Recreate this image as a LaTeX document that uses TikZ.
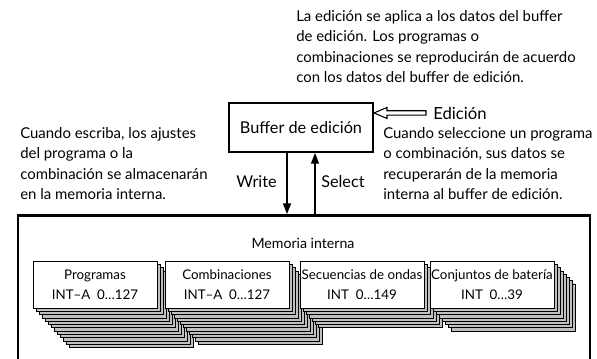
\documentclass[tikz,border=0pt]{standalone}
\usepackage{fontspec}
\setmainfont{Lato}
\usetikzlibrary{arrows.meta,calc}
\begin{document}
\begin{tikzpicture}[x=.75pt,y=-.75pt,txt/.style={inner sep=0pt,align=left,anchor=north west,font=\fontsize{11.2}{15.4}\selectfont},card/.style={draw,fill=white,line width=.75pt,minimum width=93pt,minimum height=35.25pt,inner sep=0pt,align=center,font=\fontsize{10}{15}\selectfont},sheet/.style={draw,fill=gray!50,line width=.6pt},arr/.style={line width=1.1pt,-{Triangle[length=8pt,width=6pt]}}]
\useasboundingbox(0,0)rectangle(597,358);\clip(0,0)rectangle(597,358);
\node[draw,line width=1.9pt,minimum width=429pt,minimum height=130pt,inner sep=0pt,anchor=north](memory)at(304,214){};
\node[inner sep=0pt,font=\fontsize{10.6}{15}\selectfont](meminfo)at(303,243){Memoria interna};
\foreach\x/\n/\name/\a/\b in {95/12/prog/Programas/INT–A\ \ 0\ldots127,227/11/comb/Combinaciones/INT–A\ \ 0\ldots127,362/6/seq/Secuencias de ondas/INT\ \ 0\ldots149,492/7/drum/Conjuntos de batería/INT\ \ 0\ldots39}{
\foreach\k in {\n,...,1}{\draw[sheet]($(\x,284.5)+(-62+3*\k,-23.5+3.3*\k)$)rectangle+(124,47);}
\node[card](\name)at(\x,284.5){\a\\\b};}
\node[draw,line width=1.5pt,minimum width=108pt,minimum height=36.75pt,font=\fontsize{12.2}{15}\selectfont](buf)at(301,127.5){Buffer de edición};
\coordinate(w1)at([xshift=-10.5pt]buf.south);\coordinate(s1)at([xshift=10.5pt]buf.south);
\draw[arr](w1)--(w1|-memory.north);\draw[arr](s1|-memory.north)--(s1);
\node[txt,anchor=east,font=\fontsize{12.2}{15}\selectfont](write)at(277,182){Write};\node[txt,anchor=west,font=\fontsize{12.2}{15}\selectfont](select)at(321,182){Select};
\coordinate(e1)at([yshift=10.9pt]buf.east);
\draw[line width=.8pt,fill=white](e1)--++(13,-5.5)--++(0,3.3)--++(39,0)--++(0,4.4)--++(-39,0)--++(0,3.3)--cycle;
\node[txt,anchor=west,font=\fontsize{12.5}{15}\selectfont](edic)at(433,113){Edición};
\node[txt](applies)at(296,10){La edición se aplica a los datos del buffer\\de edición. Los programas o\\combinaciones se reproducirán de acuerdo\\con los datos del buffer de edición.};
\node[txt](writes)at(20,127){Cuando escriba, los ajustes\\del programa o la\\combinación se almacenarán\\en la memoria interna.};
\node[txt](selects)at(383,127){Cuando seleccione un programa\\o combinación, sus datos se\\recuperarán de la memoria\\interna al buffer de edición.};
\end{tikzpicture}
\end{document}
